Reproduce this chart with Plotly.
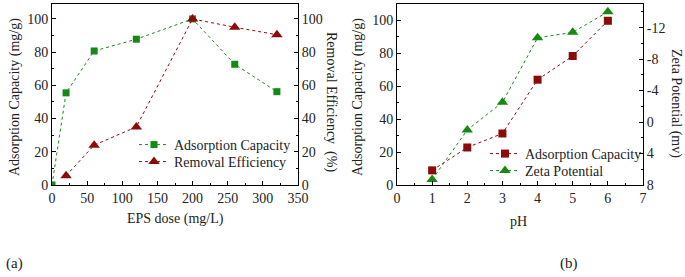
import plotly.graph_objects as go

W, H = 685, 277

# ---- panel (a) data ----
eps_dose_ads = [0, 20, 60, 120, 200, 260, 320]
ads_capacity_a = [0, 55.5, 80.7, 87.8, 100, 72.7, 56.2]
eps_dose_rem = [20, 60, 120, 200, 260, 320]
removal_eff = [5.6, 24, 35, 100, 95, 90.5]

# ---- panel (b) data ----
ph = [1, 2, 3, 4, 5, 6]
ads_capacity_b = [8.9, 22.8, 31.3, 64, 78.4, 99.8]
zeta = [7.3, 1.0, -2.5, -10.7, -11.4, -14.0]
zeta_ticks = [-12, -8, -4, 0, 4, 8]
zeta_ticktext = ["-12", "-8", "-4", "0", "4", "8"]

GREEN = "#138a13"
RED = "#8b0a0a"
FONT = "Liberation Serif"
TXT = "#222222"

def px_x(p):
    return p / W

def px_y(p):
    return 1 - p / H

fig = go.Figure()

fig.add_trace(go.Scatter(
    x=eps_dose_ads, y=ads_capacity_a, name="Adsorption Capacity",
    mode="lines+markers", xaxis="x", yaxis="y", legend="legend",
    line=dict(color=GREEN, width=1, dash="dot"),
    marker=dict(symbol="square", size=7, color=GREEN)))
fig.add_trace(go.Scatter(
    x=eps_dose_rem, y=removal_eff, name="Removal Efficiency",
    mode="lines+markers", xaxis="x", yaxis="y2", legend="legend2",
    line=dict(color=RED, width=1, dash="dot"),
    marker=dict(symbol="triangle-up", size=10, color=RED)))

fig.add_trace(go.Scatter(
    x=ph, y=ads_capacity_b, name="Adsorption Capacity",
    mode="lines+markers", xaxis="x2", yaxis="y3", legend="legend3",
    line=dict(color=RED, width=1, dash="dot"),
    marker=dict(symbol="square", size=8, color=RED)))
fig.add_trace(go.Scatter(
    x=ph, y=zeta, name="Zeta Potential",
    mode="lines+markers", xaxis="x2", yaxis="y4", legend="legend4",
    line=dict(color=GREEN, width=1, dash="dot"),
    marker=dict(symbol="triangle-up", size=10, color=GREEN)))

ax_common = dict(showline=True, linecolor="black", linewidth=1, showgrid=False,
                 zeroline=False, ticks="inside", ticklen=4, tickcolor="black",
                 tickfont=dict(family=FONT, size=14, color=TXT), automargin=False)

ydom = [px_y(185), px_y(4)]
minor_style = dict(ticks="inside", ticklen=2, tickcolor="black")

def leg(x, y):
    return dict(x=px_x(x), y=px_y(y), xanchor="left", yanchor="middle",
                bgcolor="rgba(0,0,0,0)", font=dict(family=FONT, size=14, color=TXT),
                tracegroupgap=0, itemwidth=30)

fig.update_layout(
    width=W, height=H, margin=dict(l=0, r=0, t=0, b=0),
    paper_bgcolor="white", plot_bgcolor="white",
    font=dict(family=FONT, size=14, color=TXT),
    xaxis=dict(domain=[px_x(52), px_x(298)], range=[0, 350], dtick=50, anchor="y",
               mirror=True, minor=dict(dtick=25, **minor_style), **ax_common),
    yaxis=dict(domain=ydom, range=[0, 109], dtick=20, anchor="x",
               minor=dict(dtick=10, **minor_style), **ax_common),
    yaxis2=dict(overlaying="y", side="right", range=[0, 109], dtick=20, anchor="x",
                minor=dict(dtick=10, **minor_style), **ax_common),
    xaxis2=dict(domain=[px_x(397), px_x(643)], range=[0, 7], dtick=1, anchor="y3",
                mirror=True, minor=dict(dtick=0.5, **minor_style), **ax_common),
    yaxis3=dict(domain=ydom, range=[0, 110], dtick=20, anchor="x2",
                minor=dict(dtick=10, **minor_style), **ax_common),
    yaxis4=dict(overlaying="y3", side="right", range=[8, -15], anchor="x2",
                tickvals=zeta_ticks, ticktext=zeta_ticktext,
                minor=dict(dtick=2, **minor_style), **ax_common),
    legend=leg(134, 145),
    legend2=leg(134, 162),
    legend3=leg(485, 154),
    legend4=leg(485, 171),
    showlegend=True,
)

def ann(text, x, y, angle=0, size=14):
    fig.add_annotation(text=text, x=px_x(x), y=px_y(y), xref="paper", yref="paper",
                       showarrow=False, textangle=angle, xanchor="center", yanchor="middle",
                       font=dict(family=FONT, size=size, color=TXT))

ann("Adsorption Capacity (mg/g)", 15, 97, -90)
ann("Removal Efficiency&nbsp;&nbsp;(%)", 331, 102, 90)
ann("EPS dose (mg/L)", 175, 219)
ann("Adsorption Capacity (mg/g)", 358, 97, -90)
ann("Zeta Potential (mv)", 676, 103, 90)
ann("pH", 518, 221)
ann("(a)", 14, 263, 0, 15)
ann("(b)", 569, 263, 0, 15)

fig.write_html("out.html", config={"displayModeBar": False},
               post_script="document.body.style.margin='0px';document.body.style.overflow='hidden';")
